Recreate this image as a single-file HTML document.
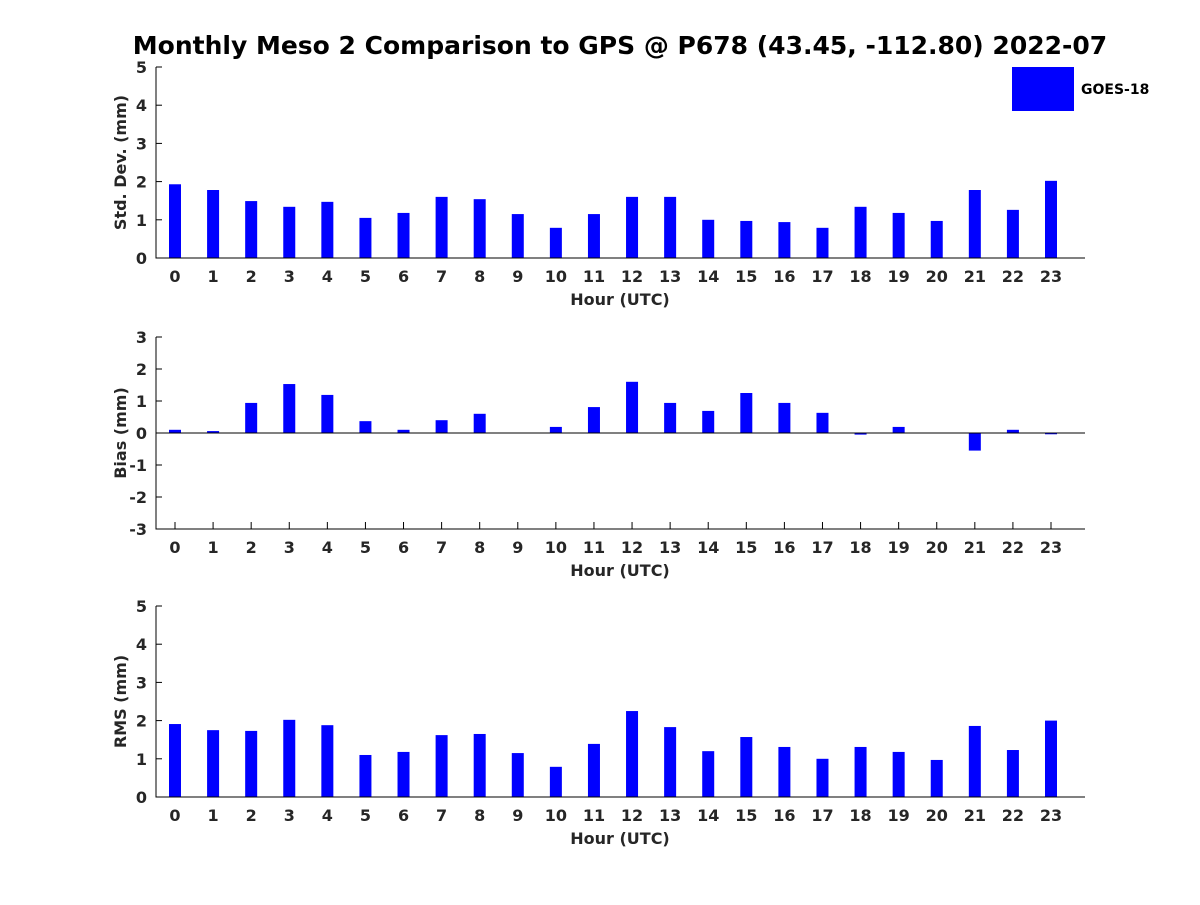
<!DOCTYPE html>
<html><head><meta charset="utf-8"><style>
body{margin:0;background:#fff}
svg text{font-family:"DejaVu Sans","Liberation Sans",sans-serif;font-weight:bold;fill:#262626}
</style></head><body>
<svg id="chart" width="1200" height="900" xmlns="http://www.w3.org/2000/svg">
<text x="620" y="54" text-anchor="middle" font-size="25" style="fill:#000">Monthly Meso 2 Comparison to GPS @ P678 (43.45, -112.80) 2022-07</text>
<rect x="1012" y="67" width="62" height="44" fill="#0000ff"/>
<text x="1081" y="94" font-size="14" style="fill:#000">GOES-18</text>
</svg>
<script>
const hours=[0,1,2,3,4,5,6,7,8,9,10,11,12,13,14,15,16,17,18,19,20,21,22,23];
const stdVals=[1.93,1.78,1.49,1.34,1.47,1.05,1.18,1.6,1.54,1.15,0.79,1.15,1.6,1.6,1.0,0.97,0.94,0.79,1.34,1.18,0.97,1.78,1.26,2.02];
const biasVals=[0.1,0.06,0.94,1.53,1.19,0.37,0.1,0.4,0.6,0.0,0.19,0.81,1.6,0.94,0.69,1.25,0.94,0.63,-0.05,0.19,-0.01,-0.55,0.1,-0.04];
const rmsVals=[1.91,1.75,1.73,2.02,1.88,1.1,1.18,1.62,1.65,1.15,0.79,1.39,2.25,1.83,1.2,1.57,1.31,1.0,1.31,1.18,0.97,1.86,1.23,2.0];
const stdTicks=[0,1,2,3,4,5];
const biasTicks=[-3,-2,-1,0,1,2,3];
const rmsTicks=[0,1,2,3,4,5];
const NS="http://www.w3.org/2000/svg";
const svg=document.getElementById('chart');
const X0=156,X1=1085;
function x(h){return 175+h*(1051-175)/23;}
function mk(tag,attrs){const e=document.createElementNS(NS,tag);for(const k in attrs)e.setAttribute(k,attrs[k]);svg.appendChild(e);return e;}
function panel(name,top,bottom,ymin,ymax,ticks,vals,ylabel){
  const y=v=>bottom-(v-ymin)*(bottom-top)/(ymax-ymin);
  hours.forEach(h=>{
    mk('line',{x1:x(h),x2:x(h),y1:bottom,y2:bottom-7,stroke:'#000'});
  });
  vals.forEach((v,i)=>{
    const y0=y(Math.max(0,ymin)),y1=y(v);
    const r=mk('rect',{x:x(hours[i])-6,y:Math.min(y0,y1),width:12,height:Math.max(Math.abs(y1-y0),0.5),fill:'#0000ff'});
    
    
  });
  if(ymin<0){const z=mk('line',{x1:X0,x2:X1,y1:y(0),y2:y(0),stroke:'#000','stroke-width':1});
    
    }
  const ax=mk('path',{d:`M${X0},${top}V${bottom}H${X1}`,stroke:'#000',fill:'none','stroke-width':1});
  
  
  ticks.forEach(t=>{
    mk('line',{x1:X0,x2:X0+6,y1:y(t),y2:y(t),stroke:'#000'});
    const tl=mk('text',{x:X0-9,y:y(t)+6,'text-anchor':'end','font-size':16});
    tl.textContent=t;
    
    
  });
  hours.forEach(h=>{
    const tl=mk('text',{x:x(h),y:bottom+24,'text-anchor':'middle','font-size':16});
    tl.textContent=h;
    
    
  });
  const xl=mk('text',{x:620,y:bottom+47,'text-anchor':'middle','font-size':16});
  xl.textContent='Hour (UTC)';
  
  
  const cy=(top+bottom)/2;
  const yl=mk('text',{x:126,y:cy,'text-anchor':'middle','font-size':16,transform:`rotate(-90 126 ${cy})`});
  yl.textContent=ylabel;
  
  
}
panel('std',67,258,0,5,stdTicks,stdVals,'Std. Dev. (mm)');
panel('bias',337,529,-3,3,biasTicks,biasVals,'Bias (mm)');
panel('rms',606,797,0,5,rmsTicks,rmsVals,'RMS (mm)');
</script>
</body></html>
